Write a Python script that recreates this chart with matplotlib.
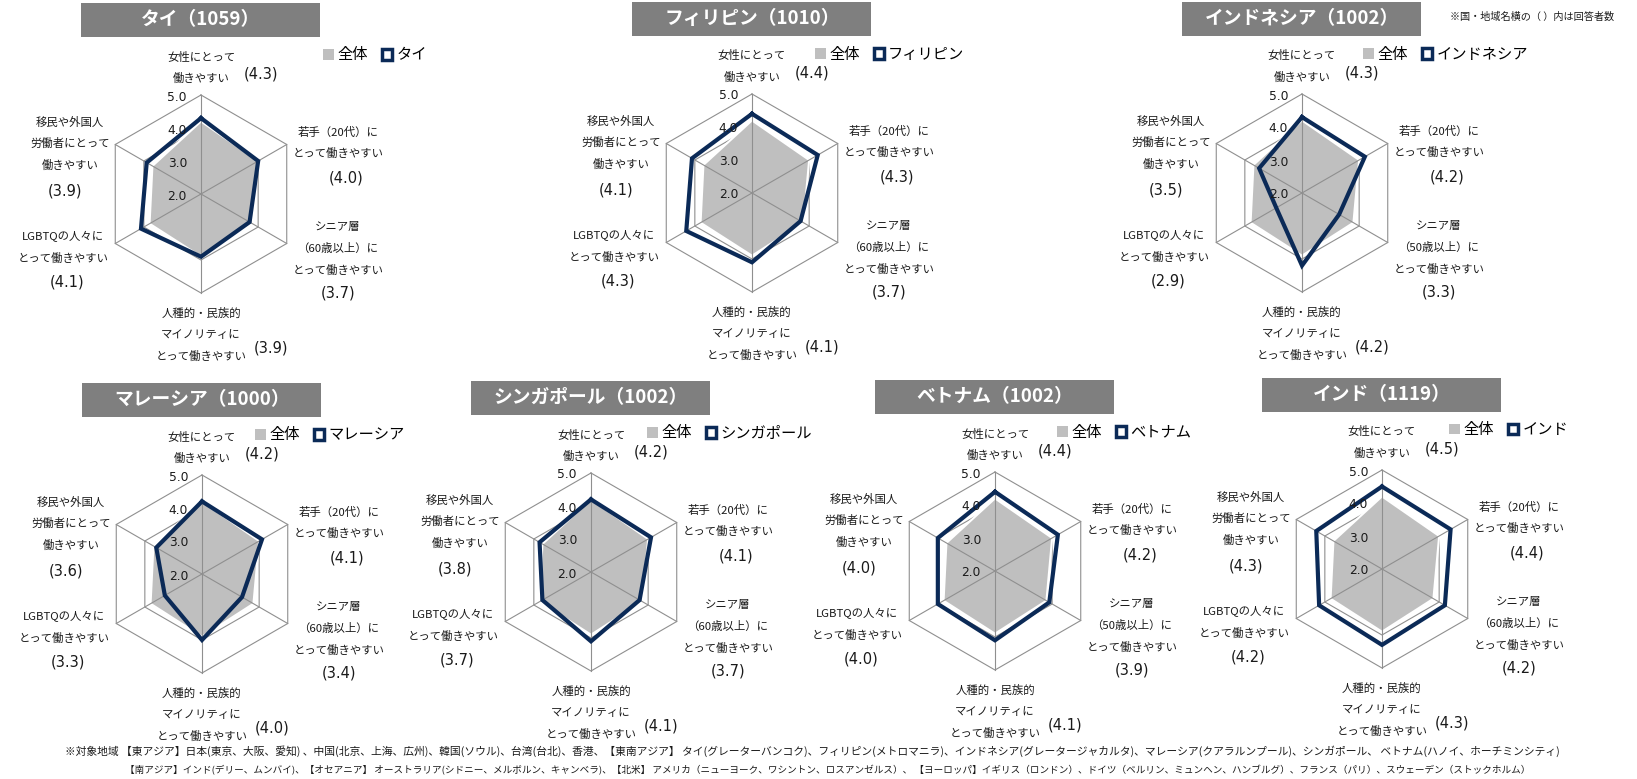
import numpy as np
import matplotlib.pyplot as plt
from matplotlib.patches import Patch, Rectangle

plt.rcParams['font.family'] = ['Noto Sans CJK JP', 'DejaVu Sans']

# data
countries = ['タイ', 'フィリピン', 'インドネシア', 'マレーシア', 'シンガポール', 'ベトナム', 'インド']
respondents = [1059, 1010, 1002, 1000, 1002, 1002, 1119]
senior_age = ['60', '60', '50', '60', '60', '50', '60']

# order: women, young, senior, minority, LGBTQ, immigrants (clockwise from top)
overall = [4.2, 4.0, 3.8, 3.9, 3.8, 3.7]
thailand = [4.3, 4.0, 3.7, 3.9, 4.1, 3.9]
philippines = [4.4, 4.3, 3.7, 4.1, 4.3, 4.1]
indonesia = [4.3, 4.2, 3.3, 4.2, 2.9, 3.5]
malaysia = [4.2, 4.1, 3.4, 4.0, 3.3, 3.6]
singapore = [4.2, 4.1, 3.7, 4.1, 3.7, 3.8]
vietnam = [4.4, 4.2, 3.9, 4.1, 4.0, 4.0]
india = [4.5, 4.4, 4.2, 4.3, 4.2, 4.3]
scores = [thailand, philippines, indonesia, malaysia, singapore, vietnam, india]

cat_labels = [
    ['女性にとって', '働きやすい'],
    ['若手（20代）に', 'とって働きやすい'],
    ['シニア層', '（{}歳以上）に', 'とって働きやすい'],
    ['人種的・民族的', 'マイノリティに', 'とって働きやすい'],
    ['LGBTQの人々に', 'とって働きやすい'],
    ['移民や外国人', '労働者にとって', '働きやすい'],
]
rticks = [2.0, 3.0, 4.0, 5.0]

note_top = '※国・地域名横の（ ）内は回答者数'
note1 = ('※対象地域 【東アジア】日本(東京、大阪、愛知) 、中国(北京、上海、広州)、韓国(ソウル)、台湾(台北)、香港、'
         '【東南アジア】 タイ(グレーターバンコク)、フィリピン(メトロマニラ)、インドネシア(グレータージャカルタ)、'
         'マレーシア(クアラルンプール)、シンガポール、 ベトナム(ハノイ、ホーチミンシティ)')
note2 = ('【南アジア】インド(デリー、ムンバイ)、【オセアニア】 オーストラリア(シドニー、メルボルン、キャンベラ)、'
         '【北米】 アメリカ（ニューヨーク、ワシントン、ロスアンゼルス）、 【ヨーロッパ】イギリス（ロンドン）、'
         'ドイツ（ベルリン、ミュンヘン、ハンブルグ）、フランス（パリ）、スウェーデン（ストックホルム）')

# layout (pixels)
W, H = 1637, 779
centers = [(201, 194), (752, 193), (1302, 193), (202, 574), (591, 572), (995, 571), (1382, 569)]
legend_dx = [122, 63, 61, 53, 56, 62, 67]
R = 99
navy = '#0b2a57'
grey = '#bfbfbf'
gridc = '#8f8f8f'
txtc = '#1a1a1a'

label_pos = [(0, -137), (137, -62), (137, 33), (0, 119), (-138, 43), (-131, -72)]
value_pos = [(60, -120), (145, -16), (137, 99), (70, 154), (-134, 88), (-136, -3)]
line_h = 21.5


def fx(x):
    return x / W


def fy(y):
    return 1 - y / H


fig = plt.figure(figsize=(W / 100, H / 100), dpi=100)
theta = np.deg2rad(np.arange(6) * 60)
tc = np.append(theta, theta[0])

for i, name in enumerate(countries):
    cx, cy = centers[i]
    ax = fig.add_axes([fx(cx - R), fy(cy + R), 2 * R / W, 2 * R / H], projection='polar')
    ax.set_theta_zero_location('N')
    ax.set_theta_direction(-1)
    ax.set_ylim(2, 5)
    ax.grid(False)
    ax.set_xticks([])
    ax.set_yticks([])
    ax.spines['polar'].set_visible(False)
    ax.patch.set_alpha(0)

    for v in [3.0, 4.0, 5.0]:
        ax.plot(tc, [v] * 7, color=gridc, lw=0.8, zorder=1, clip_on=False)
    ov = overall + [overall[0]]
    ax.fill(tc, ov, facecolor=grey, edgecolor='white', lw=1.5, zorder=2)
    for t in theta:
        ax.plot([t, t], [2, 5], color=gridc, lw=0.8, zorder=3, clip_on=False)
    sv = scores[i] + [scores[i][0]]
    ax.plot(tc, sv, color=navy, lw=3.0, zorder=4, clip_on=False, solid_joinstyle='miter')

    for v in rticks:
        ax.annotate(f'{v:.1f}', (0, v), xytext=(-14, -2), textcoords='offset pixels',
                    ha='right', va='center', fontsize=8.8, color=txtc, family='DejaVu Sans',
                    annotation_clip=False, zorder=5)

    # title box
    fig.patches.append(Rectangle((fx(cx - 120), fy(cy - 157)), 239 / W, 34 / H,
                                 transform=fig.transFigure, facecolor='#7f7f7f', edgecolor='none'))
    fig.text(fx(cx), fy(cy - 174), f'{name}（{respondents[i]}）', ha='center', va='center',
             fontsize=13.5, fontweight='bold', color='white')

    # category labels and values
    for k, lines in enumerate(cat_labels):
        dx, dy = label_pos[k]
        for j, line in enumerate(lines):
            fig.text(fx(cx + dx), fy(cy + dy + j * line_h), line.format(senior_age[i]),
                     ha='center', va='center', fontsize=8.2, color=txtc)
        vx, vy = value_pos[k]
        fig.text(fx(cx + vx), fy(cy + vy), f'({scores[i][k]:.1f})', ha='center', va='center',
                 fontsize=10.5, color=txtc, family='DejaVu Sans')

    handles = [Patch(facecolor=grey, edgecolor='none'),
               Patch(facecolor='white', edgecolor=navy, linewidth=2.5)]
    fig.legend(handles, ['全体', name], loc='center left',
               bbox_to_anchor=(fx(cx + legend_dx[i]), fy(cy - 139)), ncol=2, frameon=False,
               fontsize=11, handlelength=0.7, handleheight=0.7, handletextpad=0.25,
               columnspacing=0.9, borderpad=0, borderaxespad=0)

fig.text(fx(1450), fy(17), note_top, ha='left', va='center', fontsize=7.3, color=txtc)

fig.canvas.draw()
renderer = fig.canvas.get_renderer()
for txt, x0, x1, y in [(note1, 65, 1563, 751), (note2, 125, 1530, 770)]:
    t = fig.text(fx(x0), fy(y), txt, ha='left', va='center', fontsize=8, color=txtc)
    w = t.get_window_extent(renderer).width
    t.set_fontsize(min(8, 8 * (x1 - x0) / w))

fig.savefig('out.png', dpi=100, facecolor='white')
